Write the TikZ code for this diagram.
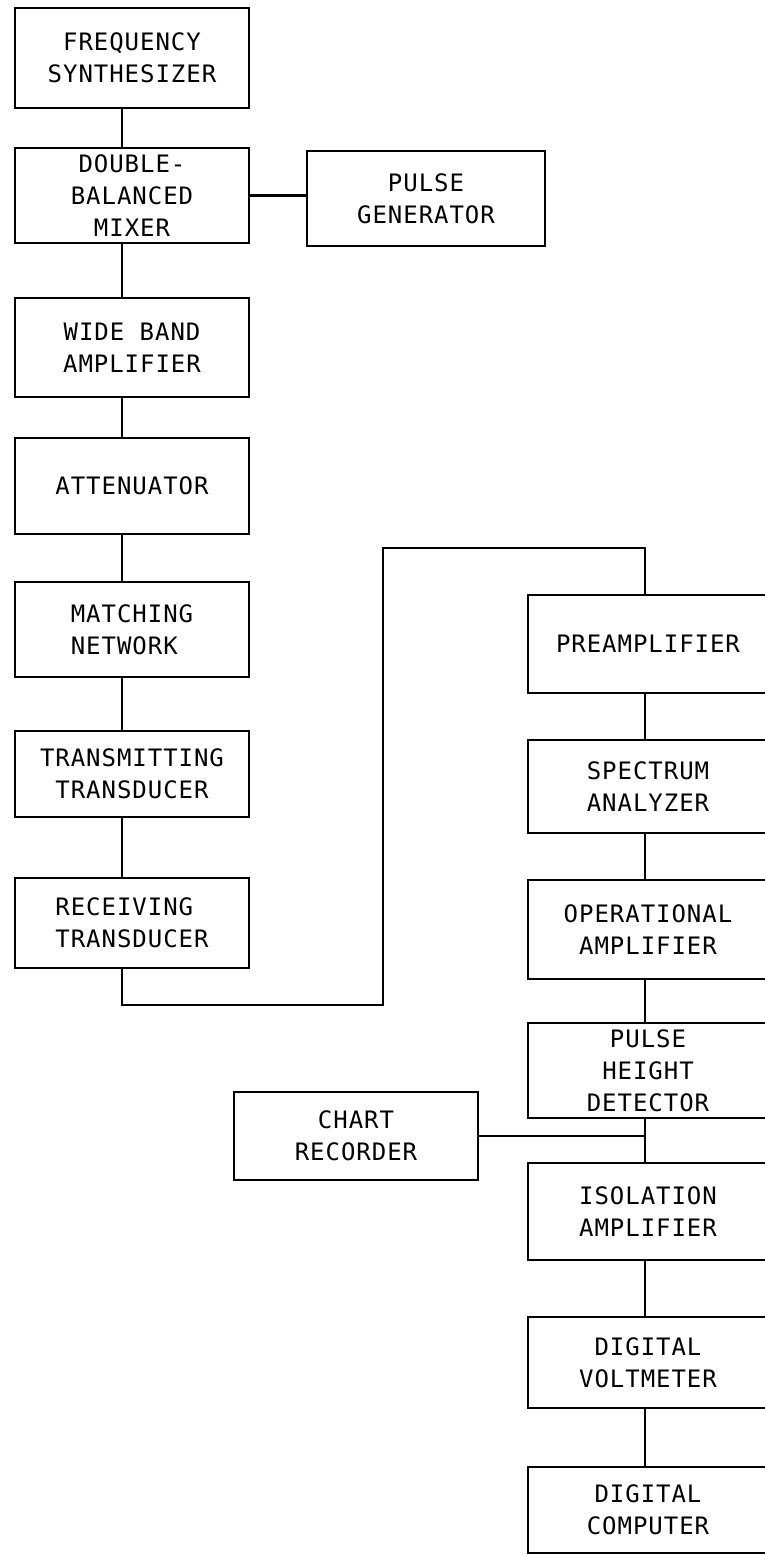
\documentclass[tikz,border=0pt]{standalone}
\usepackage{fontspec}
\newfontfamily\lettering{DejaVu Sans Mono}[LetterSpace=4]
\usetikzlibrary{positioning}

\begin{document}
\begin{tikzpicture}[
  x=1pt, y=-1pt,
  box/.style={draw, line width=2pt, align=center, inner sep=0pt, outer sep=0pt, minimum width=234pt,
    font=\lettering\fontsize{24}{32}\selectfont},
  rbox/.style={box, minimum width=240pt},
  wire/.style={line width=1.4pt},
  heavywire/.style={line width=2.6pt}
]
\useasboundingbox (0,0) rectangle (765,1556);
% transmitting chain
\node[box, minimum height=100pt, anchor=north west] (synth) at (15,8) {FREQUENCY\\SYNTHESIZER};
\node[box, minimum height=95pt, below=40pt of synth] (mixer) {DOUBLE-\\BALANCED\\MIXER};
\node[box, minimum height=99pt, below=55pt of mixer] (wideband) {WIDE BAND\\AMPLIFIER};
\node[box, minimum height=96pt, below=41pt of wideband] (atten) {ATTENUATOR};
\node[box, minimum height=95pt, below=48pt of atten, align=left] (matching) {MATCHING\\NETWORK};
\node[box, minimum height=86pt, below=54pt of matching] (transmit) {TRANSMITTING\\TRANSDUCER};
\node[box, minimum height=90pt, below=61pt of transmit, align=left] (receive) {RECEIVING\\TRANSDUCER};
\node[box, minimum width=238pt, minimum height=95pt, right=58pt of mixer, yshift=-3pt] (pulsegen) {PULSE\\GENERATOR};
% receiving chain
\node[rbox, minimum height=98pt, anchor=north west] (preamp) at (528,595) {PREAMPLIFIER};
\node[rbox, minimum height=93pt, below=47pt of preamp] (spectrum) {SPECTRUM\\ANALYZER};
\node[rbox, minimum height=99pt, below=47pt of spectrum] (opamp) {OPERATIONAL\\AMPLIFIER};
\node[rbox, minimum height=95pt, below=44pt of opamp] (detector) {PULSE\\HEIGHT\\DETECTOR};
\node[rbox, minimum height=97pt, below=45pt of detector] (isolation) {ISOLATION\\AMPLIFIER};
\node[rbox, minimum height=91pt, below=57pt of isolation] (voltmeter) {DIGITAL\\VOLTMETER};
\node[rbox, minimum height=86pt, below=59pt of voltmeter] (computer) {DIGITAL\\COMPUTER};
\node[box, minimum width=244pt, minimum height=88pt, anchor=north west] (chart) at (234,1092) {CHART\\RECORDER};
% connector lines
\coordinate (leftbus) at (122,0);
\coordinate (rightbus) at (645,0);
\coordinate (loopbottom) at (383,1005);
\coordinate (looptop) at (383,548);
\draw[wire] (synth.south -| leftbus) -- (mixer.north -| leftbus);
\draw[wire] (mixer.south -| leftbus) -- (wideband.north -| leftbus);
\draw[wire] (wideband.south -| leftbus) -- (atten.north -| leftbus);
\draw[wire] (atten.south -| leftbus) -- (matching.north -| leftbus);
\draw[wire] (matching.south -| leftbus) -- (transmit.north -| leftbus);
\draw[wire] (transmit.south -| leftbus) -- (receive.north -| leftbus);
\draw[heavywire] (mixer.east) -- (mixer.east -| pulsegen.west);
\draw[wire] (receive.south -| leftbus) |- (loopbottom) -- (looptop) -| (preamp.north -| rightbus);
\draw[wire] (preamp.south -| rightbus) -- (spectrum.north -| rightbus);
\draw[wire] (spectrum.south -| rightbus) -- (opamp.north -| rightbus);
\draw[wire] (opamp.south -| rightbus) -- (detector.north -| rightbus);
\draw[wire] (detector.south -| rightbus) -- (isolation.north -| rightbus);
\draw[wire] (isolation.south -| rightbus) -- (voltmeter.north -| rightbus);
\draw[wire] (voltmeter.south -| rightbus) -- (computer.north -| rightbus);
\draw[heavywire] (chart.east) -- (chart.east -| rightbus);
\end{tikzpicture}
\end{document}
